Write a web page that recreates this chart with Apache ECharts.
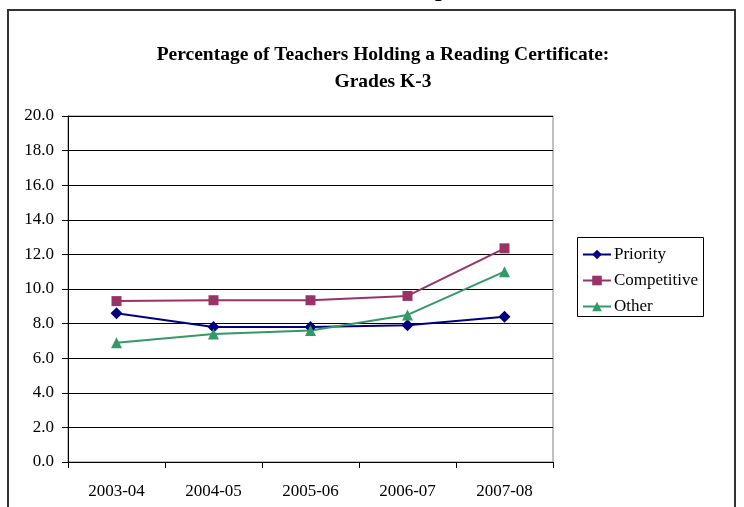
<!DOCTYPE html>
<html><head><meta charset="utf-8">
<script src="https://cdn.jsdelivr.net/npm/echarts@6/dist/echarts.min.js"></script>
<style>html,body{margin:0;padding:0;background:#fff}#c{width:744px;height:507px}</style>
</head><body><div id="c"></div>
<script>
const categories = ['2003-04','2004-05','2005-06','2006-07','2007-08'];
const priority = [8.6, 7.8, 7.8, 7.9, 8.4];
const competitive = [9.3, 9.35, 9.35, 9.6, 12.35];
const other = [6.9, 7.4, 7.6, 8.5, 11.0];
const yTicks = {min: 0, max: 20, interval: 2};
const FONT = '"Liberation Serif", "Times New Roman", serif';

const chart = echarts.init(document.getElementById('c'), null, {renderer: 'canvas'});
function mk(name, data, color, symbol, size) {
  return {name, type: 'line', data, symbol, symbolSize: size, showSymbol: true,
    lineStyle: {color, width: 2}, itemStyle: {color, borderWidth: 0}, animation: false, z: 3};
}
chart.setOption({
  animation: false,
  backgroundColor: '#fff',
  title: {
    text: 'Percentage of Teachers Holding a Reading Certificate:\nGrades K-3',
    left: 378, top: 36, textAlign: 'center',
    textStyle: {fontFamily: FONT, fontSize: 19.5, fontWeight: 'bold', color: '#000', lineHeight: 27}
  },
  legend: {
    orient: 'vertical', left: 582, top: 246, padding: 0, itemGap: 9,
    itemWidth: 28, itemHeight: 12,
    textStyle: {fontFamily: FONT, fontSize: 17, color: '#000', padding: [0,0,0,-2]},
    data: ['Priority','Competitive','Other']
  },
  grid: {left: 68, right: 191, top: 116, bottom: 45, show: true, borderColor: '#808080', borderWidth: 1},
  xAxis: {
    type: 'category', data: categories, boundaryGap: true,
    axisLine: {lineStyle: {color: '#000', width: 1}},
    axisTick: {show: true, length: 6, interval: 0, lineStyle: {color: '#000'}},
    axisLabel: {fontFamily: FONT, fontSize: 17, color: '#000', margin: 21, interval: 0},
    splitLine: {show: false}
  },
  yAxis: {
    type: 'value', min: yTicks.min, max: yTicks.max, interval: yTicks.interval,
    axisLine: {show: true, lineStyle: {color: '#000', width: 1}},
    axisTick: {show: true, length: 6, lineStyle: {color: '#000'}},
    axisLabel: {fontFamily: FONT, fontSize: 17, color: '#000', margin: 14, formatter: v => v.toFixed(1)},
    splitLine: {show: true, lineStyle: {color: '#000', width: 1}}
  },
  graphic: [
    {type: 'rect', shape: {x: 8, y: 10, width: 727, height: 520}, style: {fill: 'none', stroke: '#333', lineWidth: 2}, silent: true},
    {type: 'rect', shape: {x: 577.5, y: 237.5, width: 126, height: 79}, style: {fill: 'none', stroke: '#000', lineWidth: 1}, silent: true},
    {type: 'text', left: 435, top: -22, style: {text: 'p', font: 'bold 24px ' + FONT, fill: '#000'}, silent: true}
  ],
  series: [
    mk('Priority', priority, '#000080', 'diamond', 12),
    mk('Competitive', competitive, '#993366', 'rect', 10),
    mk('Other', other, '#339966', 'triangle', 11)
  ]
});
</script></body></html>
